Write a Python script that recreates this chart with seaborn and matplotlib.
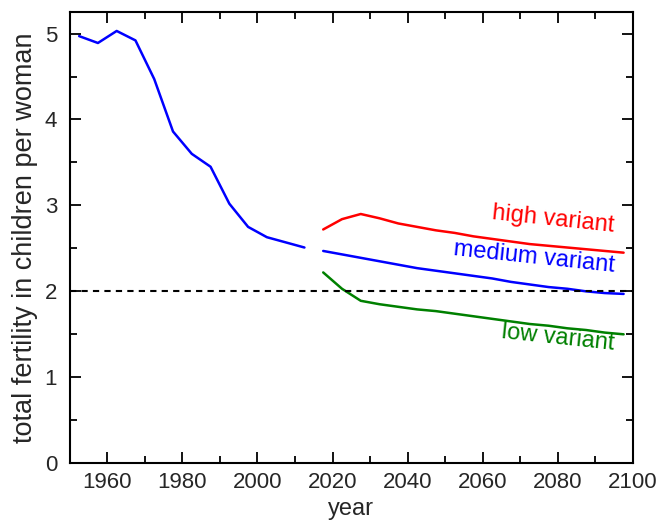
import numpy as np
import pandas as pd
import matplotlib
matplotlib.use("Agg")
import matplotlib.pyplot as plt
from matplotlib.ticker import MultipleLocator
import seaborn as sns

# ---- data ----
hist_years = [1952.5, 1957.5, 1962.5, 1967.5, 1972.5, 1977.5, 1982.5, 1987.5,
              1992.5, 1997.5, 2002.5, 2007.5, 2012.5]
hist_tfr = [4.97, 4.89, 5.03, 4.92, 4.47, 3.86, 3.60, 3.45, 3.02, 2.75, 2.63, 2.57, 2.51]

proj_years = [2017.5, 2022.5, 2027.5, 2032.5, 2037.5, 2042.5, 2047.5, 2052.5, 2057.5,
              2062.5, 2067.5, 2072.5, 2077.5, 2082.5, 2087.5, 2092.5, 2097.5]
high_tfr = [2.72, 2.84, 2.90, 2.85, 2.79, 2.75, 2.71, 2.68, 2.64, 2.61, 2.58, 2.55,
            2.53, 2.51, 2.49, 2.47, 2.45]
medium_tfr = [2.47, 2.43, 2.39, 2.35, 2.31, 2.27, 2.24, 2.21, 2.18, 2.15, 2.11, 2.08,
              2.05, 2.03, 2.00, 1.98, 1.97]
low_tfr = [2.22, 2.03, 1.89, 1.85, 1.82, 1.79, 1.77, 1.74, 1.71, 1.68, 1.65, 1.62,
           1.60, 1.57, 1.55, 1.52, 1.50]

replacement = 2.0
labels = ["high variant", "medium variant", "low variant"]
label_y = [2.76, 2.30, 1.39]

# ---- style ----
sns.set_theme(style="ticks")
plt.rcParams['font.family'] = ['Liberation Sans', 'DejaVu Sans']

fig = plt.figure(figsize=(6.58, 5.24), dpi=100)
ax = fig.add_axes([0.106, 0.116, 0.856, 0.861])

lw = 1.8
sns.lineplot(x=hist_years, y=hist_tfr, color="blue", lw=lw, ax=ax)
sns.lineplot(x=proj_years, y=high_tfr, color="red", lw=lw, ax=ax)
sns.lineplot(x=proj_years, y=medium_tfr, color="blue", lw=lw, ax=ax)
sns.lineplot(x=proj_years, y=low_tfr, color="green", lw=lw, ax=ax)
ax.axhline(replacement, color="black", lw=1.5, ls=(0, (3, 2.5)))

colors = ["red", "blue", "green"]
for lab, yy, c in zip(labels, label_y, colors):
    ax.text(2095, yy, lab, color=c, fontsize=17, ha="right", va="center",
            rotation=-6, rotation_mode="anchor")

ax.set_xlim(1950, 2100)
ax.set_ylim(0, 5.25)
ax.xaxis.set_major_locator(MultipleLocator(20))
ax.xaxis.set_minor_locator(MultipleLocator(10))
ax.yaxis.set_major_locator(MultipleLocator(1))
ax.yaxis.set_minor_locator(MultipleLocator(0.5))
ax.tick_params(which="both", direction="in", top=True, right=True, labelsize=16,
               width=1.3, color="black")
ax.tick_params(which="major", length=8)
ax.tick_params(axis="x", which="major", pad=6)
ax.tick_params(axis="y", which="major", pad=9)
ax.tick_params(which="minor", length=5)
for s in ax.spines.values():
    s.set_linewidth(1.5)
    s.set_color("black")

ax.set_xlabel("year", fontsize=17, labelpad=4)
ax.set_ylabel("total fertility in children per woman", fontsize=19.5, labelpad=5)

fig.savefig("out.png", dpi=100)
